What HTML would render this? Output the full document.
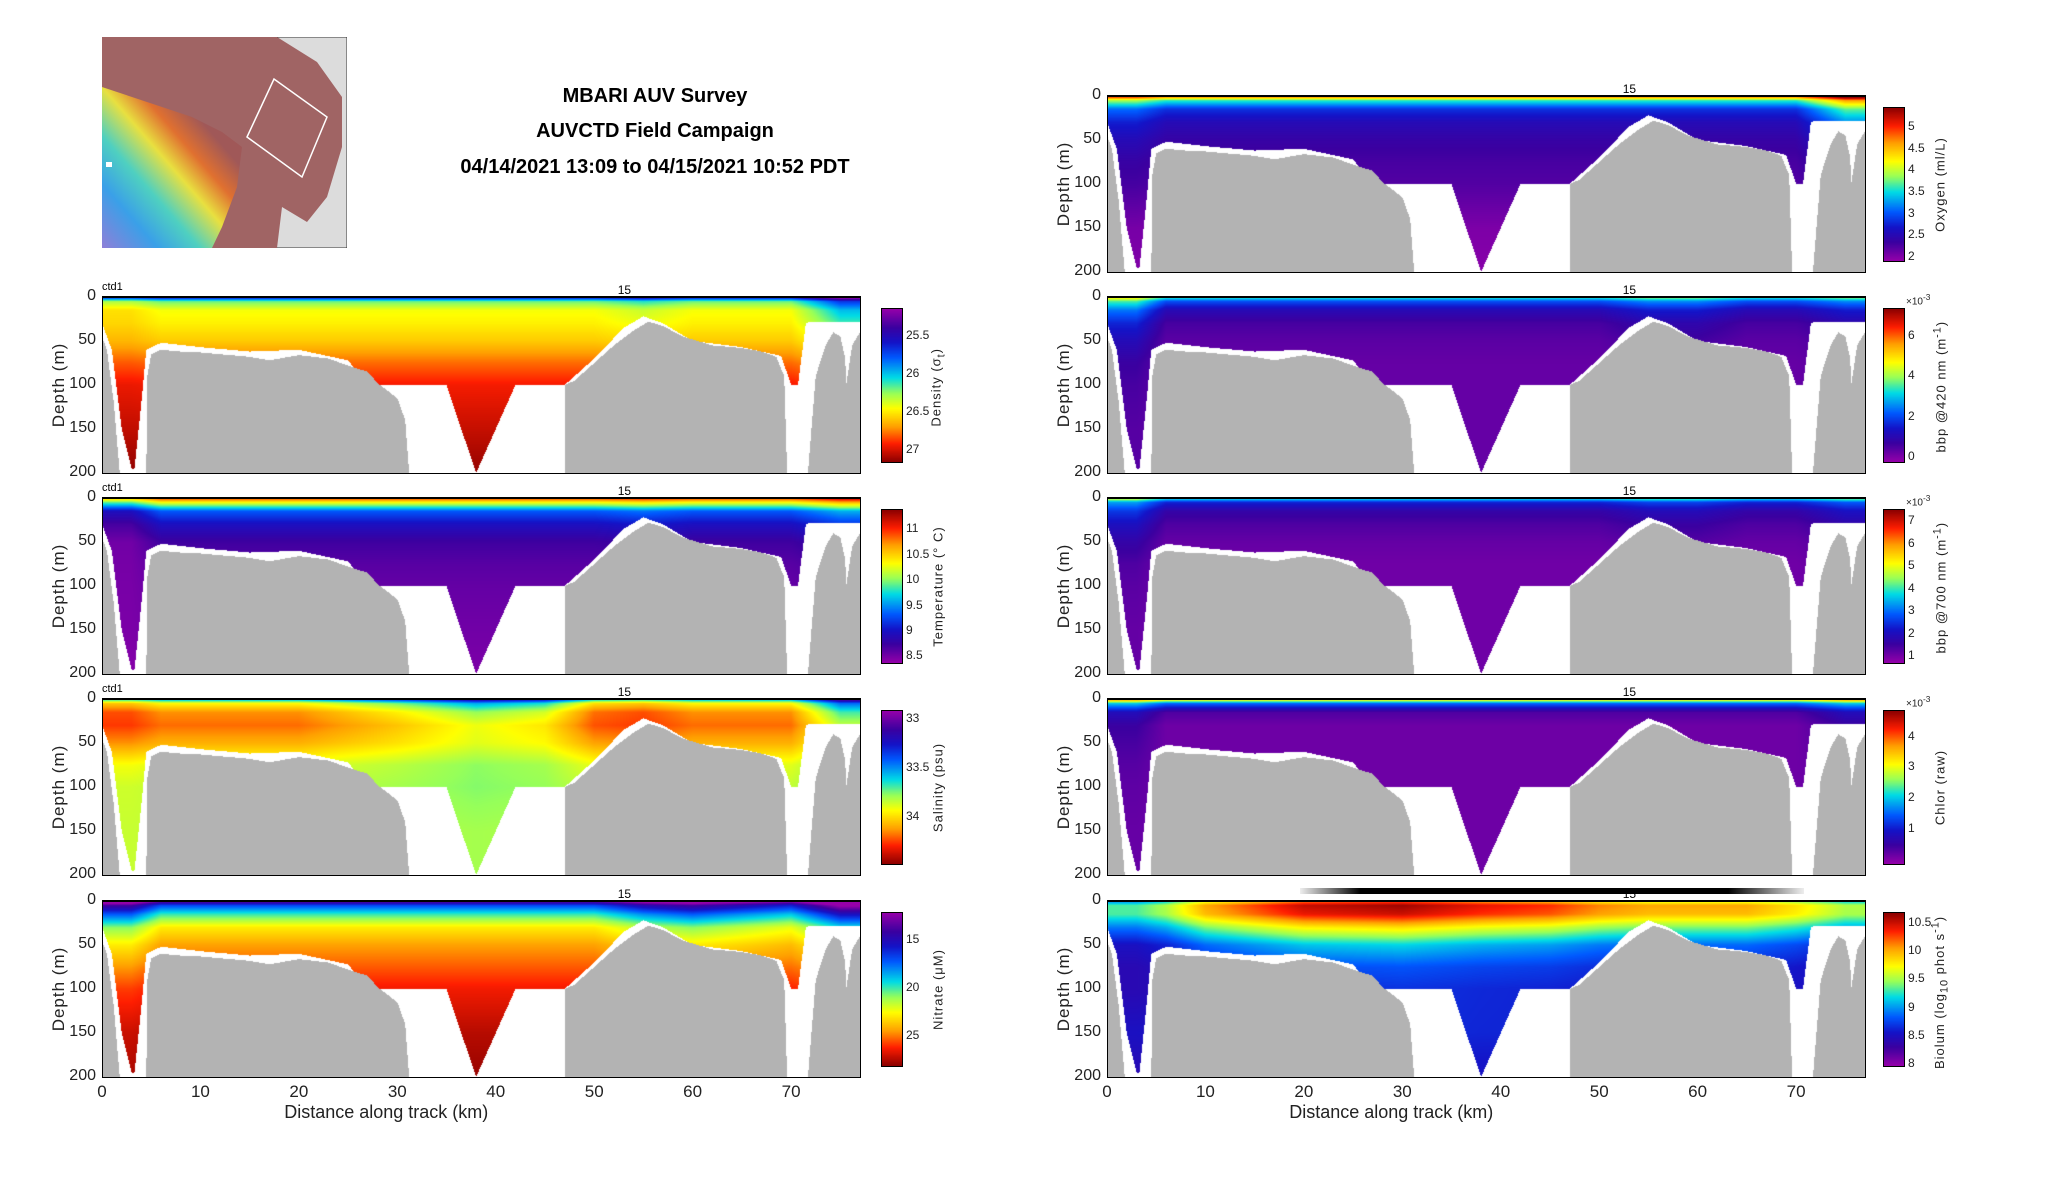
<!DOCTYPE html>
<html><head><meta charset="utf-8">
<style>
html,body{margin:0;padding:0;background:#fff;}
#root{position:relative;width:2052px;height:1188px;overflow:hidden;font-family:"Liberation Sans",sans-serif;color:#222;}
.abs{position:absolute;}
.title{position:absolute;left:355px;width:600px;text-align:center;font-weight:bold;font-size:20px;color:#000;}
canvas{position:absolute;}
.tick{position:absolute;font-size:16px;color:#222;white-space:nowrap;}
.cbt{position:absolute;font-size:12px;color:#222;white-space:nowrap;}
.rot{position:absolute;transform-origin:center center;transform:rotate(-90deg);white-space:nowrap;text-align:center;}
.axbox{position:absolute;border:1px solid #000;border-top:2px solid #000;box-sizing:border-box;pointer-events:none;}
</style></head>
<body>
<div id="root">
  <svg class="abs" style="left:102px;top:37px" width="245" height="211">
    <defs>
      <linearGradient id="bathy" x1="0" y1="1" x2="1" y2="0">
        <stop offset="0" stop-color="#8f7fd8"/><stop offset="0.2" stop-color="#3aa0e8"/>
        <stop offset="0.35" stop-color="#4fd0c0"/><stop offset="0.5" stop-color="#e8e040"/>
        <stop offset="0.62" stop-color="#e07030"/><stop offset="0.75" stop-color="#a05858"/>
      </linearGradient>
    </defs>
    <rect x="0" y="0" width="245" height="211" fill="#dcdcdc" stroke="#333"/>
    <path d="M0,0 L60,0 L175,0 L215,25 L240,60 L240,110 L225,160 L205,185 L180,170 L175,211 L0,211 Z" fill="#a06464"/>
    <path d="M0,50 L30,60 L60,70 L90,80 L120,95 L140,110 L135,150 L120,190 L110,211 L0,211 Z" fill="url(#bathy)"/>
    <polygon points="145,100 172,42 225,80 200,140" fill="none" stroke="#fff" stroke-width="1.5"/>
    <rect x="4" y="125" width="6" height="5" fill="#fff"/>
  </svg>
  <div class="title" style="top:85px">MBARI AUV Survey</div>
  <div class="title" style="top:120px">AUVCTD Field Campaign</div>
  <div class="title" style="top:156px">04/14/2021 13:09 to 04/15/2021 10:52 PDT</div>
  <div class="abs" style="left:1300px;top:888px;width:504px;height:6px;background:linear-gradient(to right,#eee,#000 12%,#000 85%,#eee)"></div>
</div>
<script>
// ---------- shared data ----------
const depthLevels=[0,5,15,30,50,75,100,150,200];
const weightByDepth=[1,1,0.9,0.7,0.5,0.3,0.2,0.1,0.1];
const anomKm=[0,3,6,10,20,30,38,45,50,55,60,65,70,75,77];
const dataKm=[0,1,2,3,3.3,4,4.5,6,10,15,20,25,27,35,38,42,47,50,53,55,57,60,65,69,70,70.7,71.5,72,77];
const dataDepth=[30,60,150,195,195,120,60,52,57,62,60,72,100,100,200,100,100,70,35,22,30,50,57,67,100,100,30,28,28];
const grayKm=[0,0.5,1.2,1.8,1.81,4.5,4.6,5,6,8,10,15,17,20,23,25,27,28,30,30.8,31.2,31.21,47,47.01,48,50,52,54,55.5,57,59,62,65,67,68.5,69.3,69.6,69.61,71.7,71.71,72.5,73.5,74.3,75,75.5,75.6,76.2,77];
const grayDepth=[45,60,120,200,201,201,90,65,60,62,63,68,72,66,70,78,85,98,115,140,200,201,201,100,95,75,55,38,28,33,45,55,58,62,68,90,200,201,201,200,90,55,40,45,70,100,55,40];
const depthTicks=[0,50,100,150,200];
const kmTicks=[0,10,20,30,40,50,60,70];
// ---------- per-panel data ----------
const densityProfile=[25.5,26.2,26.45,26.5,26.6,26.8,26.95,27.05,27.15];
const densityAnom=[0.1,0.1,0,0,0,0,0,0,0,-0.1,0,0,0,-0.5,-0.5];
const densityTicks=[25.5,26,26.5,27];
const temperatureProfile=[11,10.3,9.3,8.95,8.7,8.6,8.55,8.5,8.45];
const temperatureAnom=[-0.4,-0.4,0,0,0,0,0,0,0,0.1,0,0,0,0.3,0.3];
const temperatureTicks=[8.5,9,9.5,10,10.5,11];
const salinityProfile=[33.5,33.95,34.15,34.2,34.1,33.9,33.85,33.85,33.85];
const salinityAnom=[0.1,0.1,0,0,0,-0.2,-0.4,-0.3,0.05,0.1,0,0,0,-0.5,-0.5];
const salinityTicks=[33,33.5,34];
const nitrateProfile=[13,17,20,23,24.5,25.5,26.5,27.5,28];
const nitrateAnom=[-3,-3,0,0,0,0,0,0,0,-2,-3,-2,-1,-5,-5];
const nitrateTicks=[15,20,25];
const oxygenProfile=[5,3.6,2.8,2.5,2.35,2.25,2.2,2.0,1.95];
const oxygenAnom=[0.3,0.3,0,0,0,0,0,0,0,0,0,0,0,1,1];
const oxygenTicks=[2,2.5,3,3.5,4,4.5,5];
const bbp420Profile=[3.5,2.0,1.0,0.5,0.3,0.2,0.2,0.2,0.2];
const bbp420Anom=[1.5,1.5,0,0,0,0,0,0,0,0.5,0.5,0,0,0.5,0.5];
const bbp420Ticks=[0,2,4,6];
const bbp700Profile=[4,2.3,1.6,1.3,1.1,1.0,1.0,1.0,1.0];
const bbp700Anom=[1,1,0,0,0,0,0,0,0,0.3,0.3,0,0,0.5,0.5];
const bbp700Ticks=[1,2,3,4,5,6,7];
const chlorProfile=[3.5,1.5,0.3,0.1,0.1,0.1,0.1,0.1,0.1];
const chlorAnom=[0.5,0.5,0,0,0,0,0,0,0,0,0,0,0,0.5,0.5];
const chlorTicks=[1,2,3,4];
const biolumProfile=[9.9,10.3,10.2,9.6,9.0,8.7,8.6,8.6,8.5];
const biolumAnom=[-1,-1,-0.8,-0.3,0.2,0.3,0.1,0,-0.2,-0.3,-0.3,-0.3,-0.5,-0.8,-0.8];
const biolumTicks=[8,8.5,9,9.5,10,10.5];

const cmapStops=[[0,150,0,170],[0.12,60,0,160],[0.22,20,20,200],[0.32,0,90,255],[0.45,0,220,230],[0.55,150,255,90],[0.65,255,255,0],[0.77,255,160,0],[0.88,255,30,0],[1,140,0,0]];
function cmap(t){t=Math.max(0,Math.min(1,t));for(let i=1;i<cmapStops.length;i++){const a=cmapStops[i-1],b=cmapStops[i];if(t<=b[0]){const f=(t-a[0])/(b[0]-a[0]);return [a[1]+f*(b[1]-a[1]),a[2]+f*(b[2]-a[2]),a[3]+f*(b[3]-a[3])];}}return [140,0,0];}
function interp(xs,ys,x){if(x<=xs[0])return ys[0];for(let i=1;i<xs.length;i++){if(x<=xs[i]){const f=(x-xs[i-1])/((xs[i]-xs[i-1])||1);return ys[i-1]+f*(ys[i]-ys[i-1]);}}return ys[ys.length-1];}

const AXW=758,AXH=176,KMMAX=77,DMAX=200;
const LEFTX=102,RIGHTX=1107,ROWY=[96,297,498,699,901];
const panels=[
 {key:'density',col:0,row:1,prof:densityProfile,anom:densityAnom,ticks:densityTicks,vmin:25.16,vmax:27.17,rev:true,label:'Density (σ<sub>t</sub>)',ctd:true},
 {key:'temperature',col:0,row:2,prof:temperatureProfile,anom:temperatureAnom,ticks:temperatureTicks,vmin:8.35,vmax:11.36,rev:false,label:'Temperature (° C)',ctd:true},
 {key:'salinity',col:0,row:3,prof:salinityProfile,anom:salinityAnom,ticks:salinityTicks,vmin:32.93,vmax:34.49,rev:true,label:'Salinity (psu)',ctd:true},
 {key:'nitrate',col:0,row:4,prof:nitrateProfile,anom:nitrateAnom,ticks:nitrateTicks,vmin:12.3,vmax:28.2,rev:true,label:'Nitrate (μM)',xaxis:true},
 {key:'oxygen',col:1,row:0,prof:oxygenProfile,anom:oxygenAnom,ticks:oxygenTicks,vmin:1.88,vmax:5.42,rev:false,label:'Oxygen (ml/L)'},
 {key:'bbp420',col:1,row:1,prof:bbp420Profile,anom:bbp420Anom,ticks:bbp420Ticks,vmin:-0.3,vmax:7.3,rev:false,label:'bbp @420 nm (m<sup>-1</sup>)',exp:true},
 {key:'bbp700',col:1,row:2,prof:bbp700Profile,anom:bbp700Anom,ticks:bbp700Ticks,vmin:0.65,vmax:7.46,rev:false,label:'bbp @700 nm (m<sup>-1</sup>)',exp:true},
 {key:'chlor',col:1,row:3,prof:chlorProfile,anom:chlorAnom,ticks:chlorTicks,vmin:-0.17,vmax:4.8,rev:false,label:'Chlor (raw)',exp:true},
 {key:'biolum',col:1,row:4,prof:biolumProfile,anom:biolumAnom,ticks:biolumTicks,vmin:7.95,vmax:10.65,rev:false,label:'Biolum (log<sub>10</sub> phot s<sup>-1</sup>)',xaxis:true}
];
const root=document.getElementById('root');
function div(cls,style,html){const d=document.createElement('div');d.className=cls;d.style.cssText=style;d.innerHTML=html;root.appendChild(d);return d;}

panels.forEach(p=>{
  const x0=p.col===0?LEFTX:RIGHTX, y0=ROWY[p.row];
  const xScale=km=>km/KMMAX*AXW, yScale=d=>d/DMAX*AXH;
  const cv=document.createElement('canvas');
  cv.width=AXW;cv.height=AXH;cv.style.left=x0+'px';cv.style.top=y0+'px';
  
  
  root.appendChild(cv);
  const ctx=cv.getContext('2d');const img=ctx.createImageData(AXW,AXH);
  for(let px=0;px<AXW;px++){
    const km=(px+0.5)/AXW*KMMAX;
    const db=interp(dataKm,dataDepth,km), gb=interp(grayKm,grayDepth,km);
    const an=interp(anomKm,p.anom,km);
    for(let py=0;py<AXH;py++){
      const d=(py+0.5)/AXH*DMAX;let c;
      if(gb<=200&&d>=gb) c=[179,179,179];
      else if(d<=db){const v=interp(depthLevels,p.prof,d)+an*interp(depthLevels,weightByDepth,d);c=cmap((v-p.vmin)/(p.vmax-p.vmin));}
      else c=[255,255,255];
      const i=(py*AXW+px)*4;img.data[i]=c[0];img.data[i+1]=c[1];img.data[i+2]=c[2];img.data[i+3]=255;
    }
  }
  ctx.putImageData(img,0,0);
  const box=div('axbox',`left:${x0}px;top:${y0-1}px;width:${AXW+1}px;height:${AXH+2}px`,'');
  
  
  depthTicks.forEach(t=>{
    const e=div('tick',`left:${x0-46}px;width:40px;text-align:right;top:${y0+yScale(t)-10}px`,String(t));
    
    
  });
  const yl=div('rot',`left:${x0-113}px;width:140px;top:${y0+AXH/2-10}px;font-size:17px;letter-spacing:1px`,'Depth (m)');
  
  
  const st=div('cbt',`left:${x0+xScale(53)-6}px;top:${y0-14}px;font-size:12px;color:#000`,'15');
  
  
  if(p.ctd){const c=div('cbt',`left:${x0}px;top:${y0-16}px;font-size:11px;color:#000`,'ctd1');
    
    }
  if(p.xaxis){
    kmTicks.forEach(t=>{const e=div('tick',`left:${x0+xScale(t)-20}px;width:40px;text-align:center;top:${y0+AXH+5}px;font-size:17px`,String(t));
      
      });
    const xl=div('tick',`left:${x0}px;width:${AXW*0.75}px;text-align:center;top:${y0+AXH+25}px;font-size:18px`,'Distance along track (km)');
    
    
  }
  // colorbar
  const cbx=p.col===0?882:1884, cby=y0+12, cbh=AXH-23, cbw=20;
  const cb=document.createElement('canvas');cb.width=cbw;cb.height=cbh;cb.style.left=cbx+'px';cb.style.top=cby+'px';cb.style.outline='1px solid #000';
  
  
  root.appendChild(cb);
  const cctx=cb.getContext('2d');
  const valAt=py=>{const f=(py+0.5)/cbh;return p.rev?p.vmin+f*(p.vmax-p.vmin):p.vmax-f*(p.vmax-p.vmin);};
  for(let py=0;py<cbh;py++){const c=cmap((valAt(py)-p.vmin)/(p.vmax-p.vmin));cctx.fillStyle=`rgb(${c[0]|0},${c[1]|0},${c[2]|0})`;cctx.fillRect(0,py,cbw,1);}
  const cbY=v=>{const f=(v-p.vmin)/(p.vmax-p.vmin);return p.rev?f*cbh:(1-f)*cbh;};
  p.ticks.forEach(t=>{const e=div('cbt',`left:${cbx+cbw+4}px;top:${cby+cbY(t)-7}px`,String(t));
    
    });
  if(p.exp){const e=div('cbt',`left:${cbx+cbw+2}px;top:${cby-17}px;font-size:10px`,'×10<sup>-3</sup>');
    
    }
  const lab=div('rot',`left:${cbx+cbw+36-100}px;width:200px;top:${cby+cbh/2-8}px;font-size:13px;letter-spacing:1px`,p.label);
  
  
});
</script>
</body></html>
